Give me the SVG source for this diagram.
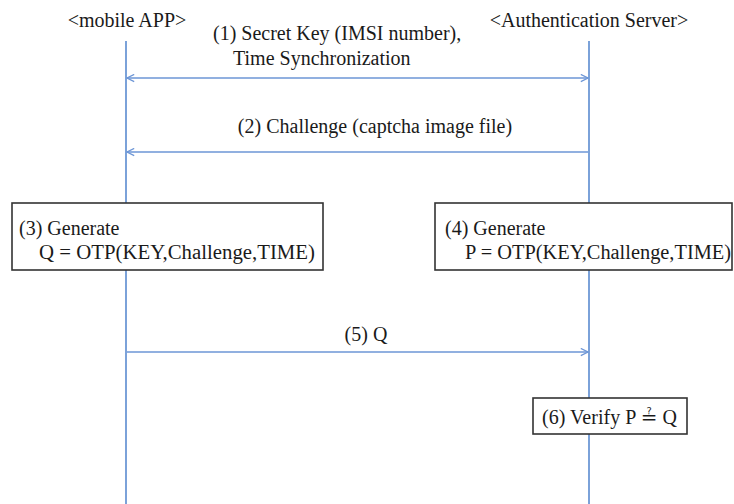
<svg xmlns="http://www.w3.org/2000/svg" width="734" height="504" viewBox="0 0 734 504">
<style>
text{font-family:"Liberation Serif","Times New Roman","DejaVu Serif",serif;font-size:20px;fill:#1a1a1a}
.life{stroke:#5b8bd0;stroke-width:1.6;fill:none}
.msg{stroke:#6d96d6;stroke-width:1.4;fill:none}
.box{fill:#fff;stroke:#333;stroke-width:1.6}
.sym{font-family:"DejaVu Serif","DejaVu Sans",serif}
</style>
<defs>
<marker id="ah" viewBox="0 0 10 10" refX="9" refY="5" markerWidth="9" markerHeight="9" markerUnits="userSpaceOnUse" orient="auto-start-reverse">
<path d="M1,1 L9,5 L1,9" fill="none" stroke="#6d96d6" stroke-width="1.4"/>
</marker>
</defs>
<g id="mobile-app">
<text x="127" y="27" text-anchor="middle">&lt;mobile APP&gt;</text>
<line class="life" x1="126" y1="41" x2="126" y2="504"/>
</g>
<g id="auth-server">
<text x="589" y="27" text-anchor="middle">&lt;Authentication Server&gt;</text>
<line class="life" x1="589" y1="41" x2="589" y2="504"/>
</g>
<g id="connectors">
<line class="msg" x1="127" y1="78" x2="588" y2="78" marker-start="url(#ah)" marker-end="url(#ah)"/>
<text x="213" y="40">(1) Secret Key (IMSI number),</text>
<text x="233" y="65">Time Synchronization</text>
<line class="msg" x1="588" y1="152" x2="127" y2="152" marker-end="url(#ah)"/>
<text x="375" y="133" text-anchor="middle">(2) Challenge (captcha image file)</text>
<line class="msg" x1="127" y1="352" x2="588" y2="352" marker-end="url(#ah)"/>
<text x="366" y="341" text-anchor="middle">(5) Q</text>
</g>
<g id="step3">
<rect class="box" x="12" y="203" width="311" height="67"/>
<text x="19" y="235">(3) Generate</text>
<text x="39" y="259" textLength="276" lengthAdjust="spacingAndGlyphs">Q = OTP(KEY,Challenge,TIME)</text>
</g>
<g id="step4">
<rect class="box" x="435" y="203" width="297" height="67"/>
<text x="445" y="235">(4) Generate</text>
<text x="465" y="259" textLength="266" lengthAdjust="spacingAndGlyphs">P = OTP(KEY,Challenge,TIME)</text>
</g>
<g id="step6">
<rect class="box" x="533" y="398" width="154" height="36"/>
<text x="542" y="424" textLength="135" lengthAdjust="spacing">(6) Verify P <tspan class="sym">≟</tspan> Q</text>
</g>
</svg>
